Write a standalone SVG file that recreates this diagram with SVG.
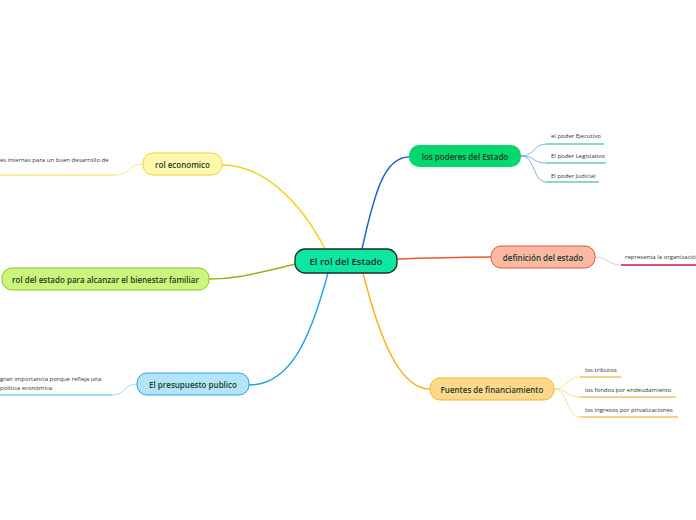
<svg xmlns="http://www.w3.org/2000/svg" width="696" height="520" viewBox="0 0 696 520">
<style>
.t{font-family:"Open Sans","Noto Sans","Liberation Sans",sans-serif;fill:#1b3a2a;}
.n{font-size:8px;font-weight:600;text-anchor:middle;dominant-baseline:central;}
.s{font-size:6px;fill:#333;}
.c{fill:none;stroke-width:1.4;}
.sc{fill:none;stroke-width:0.8;}
</style>
<rect width="696" height="520" fill="#ffffff"/>
<g id="connectors">
<path class="c" stroke="#f0d21a" d="M325,249 C300,200 262,165 222,165"/>
<path class="c" stroke="#1d5fd6" d="M362,249 C375,190 385,157 409,157"/>
<path class="c" stroke="#8ab817" d="M296,264 C260,272 240,279 209,279"/>
<path class="c" stroke="#ec5a2e" d="M397,259 C430,258 460,257 491,257"/>
<path class="c" stroke="#1aa5e8" d="M328,273 C310,340 290,385 249,385"/>
<path class="c" stroke="#fbb016" d="M363,273 C380,340 400,389 430,389"/>
<path class="sc" stroke="#6a9de8" d="M521,156 C535,156 533,144 546,144"/>
<path class="sc" stroke="#6a9de8" d="M521,156 C535,156 533,163 546,163"/>
<path class="sc" stroke="#6a9de8" d="M521,156 C535,156 533,182 546,182"/>
<path class="sc" stroke="#f5b6a0" d="M595,257 C608,257 608,265 621,265"/>
<path class="sc" stroke="#f5e26a" d="M143,164 C128,164 130,175 115,175"/>
<path class="sc" stroke="#8cd0f0" d="M137,384 C124,384 126,395 112,395"/>
<path class="sc" stroke="#fcd77a" d="M554,389 C568,389 566,377 580,377"/>
<path class="sc" stroke="#fcd77a" d="M554,389 C568,389 566,397 580,397"/>
<path class="sc" stroke="#fcd77a" d="M554,389 C568,389 566,417 580,417"/>
<line x1="546" y1="144" x2="604" y2="144" stroke="#1fb460" stroke-width="1"/>
<line x1="546" y1="163" x2="606" y2="163" stroke="#1fb460" stroke-width="1"/>
<line x1="546" y1="182" x2="599" y2="182" stroke="#1fb460" stroke-width="1"/>
<line x1="621" y1="265" x2="696" y2="265" stroke="#c8204a" stroke-width="1.3"/>
<line x1="0" y1="175" x2="115" y2="175" stroke="#f0d21a" stroke-width="0.8"/>
<line x1="0" y1="395" x2="112" y2="395" stroke="#1aa5e8" stroke-width="0.8"/>
<line x1="580" y1="377" x2="621" y2="377" stroke="#f59b12" stroke-width="1"/>
<line x1="580" y1="397" x2="676" y2="397" stroke="#f59b12" stroke-width="1"/>
<line x1="580" y1="417" x2="678" y2="417" stroke="#f59b12" stroke-width="1"/>
</g>
<g id="central">
<rect x="295" y="249" width="102" height="24" rx="10" fill="#0fe6a2" stroke="#1c2b2b" stroke-width="1.3"/>
<text class="t n" x="346" y="261" style="font-size:9.5px;fill:#142a3a">El rol del Estado</text>
</g>
<g id="poderes">
<rect x="409" y="145" width="112" height="22" rx="10" fill="#05d96e"/>
<text class="t n" x="465" y="156">los poderes del Estado</text>
</g>
<g id="ejecutivo"><text class="t s" x="551" y="138">el poder Ejecutivo</text></g>
<g id="legislativo"><text class="t s" x="551" y="158">El poder Legislativo</text></g>
<g id="judicial"><text class="t s" x="551" y="178">El poder Judicial</text></g>
<g id="definicion">
<rect x="491" y="246" width="104" height="22" rx="10" fill="#f9b9a2" stroke="#e8543a" stroke-width="1"/>
<text class="t n" x="543" y="257">definición del estado</text>
</g>
<g id="representa"><text class="t s" x="625" y="259">representa la organización</text></g>
<g id="economico">
<rect x="143" y="153" width="79" height="22" rx="10" fill="#fff8ad" stroke="#eed534" stroke-width="1"/>
<text class="t n" x="182.5" y="164">rol economico</text>
</g>
<g id="economico-text"><text class="t s" x="0" y="162">es internas para un buen desarrollo de</text></g>
<g id="bienestar">
<rect x="2" y="268" width="207" height="22" rx="10" fill="#ccf57c" stroke="#8ac428" stroke-width="1"/>
<text class="t n" x="105.5" y="279">rol del estado para alcanzar el bienestar familiar</text>
</g>
<g id="presupuesto">
<rect x="137" y="373" width="112" height="22" rx="10" fill="#b3e5f9" stroke="#2aa0dd" stroke-width="1"/>
<text class="t n" x="193" y="384">El presupuesto publico</text>
</g>
<g id="presupuesto-text">
<text class="t s" x="0" y="381">gran importancia porque refleja una</text>
<text class="t s" x="0" y="390">política económica</text>
</g>
<g id="fuentes">
<rect x="430" y="378" width="124" height="22" rx="10" fill="#ffd98a" stroke="#f5b52a" stroke-width="1"/>
<text class="t n" x="492" y="389">Fuentes de financiamiento</text>
</g>
<g id="tributos"><text class="t s" x="585" y="372">los tributos</text></g>
<g id="fondos"><text class="t s" x="585" y="392">los fondos por endeudamiento</text></g>
<g id="ingresos"><text class="t s" x="585" y="412">los ingresos por privatizaciones</text></g>
</svg>
